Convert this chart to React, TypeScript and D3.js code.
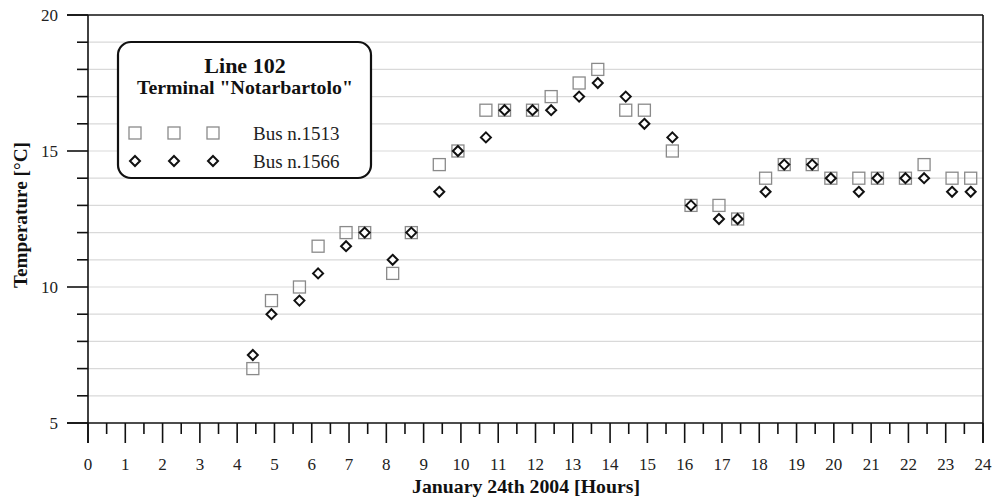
import React from "react";
import * as d3 from "d3";

// sampling times (decimal hours) on January 24th 2004
const hours = [
  4.42, 4.92, 5.67, 6.17, 6.92, 7.42, 8.17, 8.67, 9.42, 9.92, 10.67, 11.17,
  11.92, 12.42, 13.17, 13.67, 14.42, 14.92, 15.67, 16.17, 16.92, 17.42, 18.17,
  18.67, 19.42, 19.92, 20.67, 21.17, 21.92, 22.42, 23.17, 23.67,
];

const bus1513 = [
  7.0, 9.5, 10.0, 11.5, 12.0, 12.0, 10.5, 12.0, 14.5, 15.0, 16.5, 16.5, 16.5,
  17.0, 17.5, 18.0, 16.5, 16.5, 15.0, 13.0, 13.0, 12.5, 14.0, 14.5, 14.5, 14.0,
  14.0, 14.0, 14.0, 14.5, 14.0, 14.0,
];

const bus1566 = [
  7.5, 9.0, 9.5, 10.5, 11.5, 12.0, 11.0, 12.0, 13.5, 15.0, 15.5, 16.5, 16.5,
  16.5, 17.0, 17.5, 17.0, 16.0, 15.5, 13.0, 12.5, 12.5, 13.5, 14.5, 14.5, 14.0,
  13.5, 14.0, 14.0, 14.0, 13.5, 13.5,
];

const xTicks = d3.range(0, 25);
const xMinorTicks = d3.range(0.5, 24, 1);
const yTicks = [5, 10, 15, 20];
const yMinorTicks = d3.range(6, 20).filter((v) => v % 5 !== 0);
const gridValues = d3.range(6, 20);

const FONT = "'Liberation Serif', 'DejaVu Serif', serif";

const margin = { top: 15, right: 12, bottom: 77, left: 88 };
const width = 995;
const height = 500;

export default function App() {
  const x = d3
    .scaleLinear()
    .domain([0, 24])
    .range([margin.left, width - margin.right]);
  const y = d3
    .scaleLinear()
    .domain([5, 20])
    .range([height - margin.bottom, margin.top]);

  const x0 = x(0);
  const x1 = x(24);
  const y0 = y(5);
  const y1 = y(20);

  const sq = 12;
  const dm = 5;
  const diamond = (cx: number, cy: number) =>
    `M${cx},${cy - dm}L${cx + dm},${cy}L${cx},${cy + dm}L${cx - dm},${cy}Z`;

  const legendX = [135, 174, 213];

  return (
    <svg
      width={width}
      height={height}
      style={{ position: "absolute", left: 0, top: 0, background: "#fff" }}
      fontFamily={FONT}
    >
      {/* grid */}
      {gridValues.map((v) => (
        <line key={"g" + v} x1={x0} x2={x1} y1={y(v)} y2={y(v)} stroke="#d9d9d9" strokeWidth={1.2} />
      ))}

      {/* frame */}
      <line x1={x0 - 21} x2={x1} y1={y1} y2={y1} stroke="#111" strokeWidth={1.6} />
      <line x1={x1} x2={x1} y1={y1} y2={y0 + 20} stroke="#111" strokeWidth={1.6} />
      <line x1={x0 - 21} x2={x1} y1={y0} y2={y0} stroke="#111" strokeWidth={1.6} />
      <line x1={x0} x2={x0} y1={y1} y2={y0 + 20} stroke="#111" strokeWidth={1.6} />

      {/* y ticks */}
      {yTicks.map((v) => (
        <g key={"yt" + v}>
          <line x1={x0 - 21} x2={x0} y1={y(v)} y2={y(v)} stroke="#111" strokeWidth={1.6} />
          <text x={x0 - 30} y={y(v) + 6} textAnchor="end" fontSize={17} fill="#222">
            {v}
          </text>
        </g>
      ))}
      {yMinorTicks.map((v) => (
        <line key={"ym" + v} x1={x0 - 11} x2={x0} y1={y(v)} y2={y(v)} stroke="#111" strokeWidth={1.6} />
      ))}

      {/* x ticks */}
      {xTicks.map((v) => (
        <g key={"xt" + v}>
          <line x1={x(v)} x2={x(v)} y1={y0} y2={y0 + 20} stroke="#111" strokeWidth={1.6} />
          <text x={x(v)} y={y0 + 47} textAnchor="middle" fontSize={17} fill="#222">
            {v}
          </text>
        </g>
      ))}
      {xMinorTicks.map((v) => (
        <line key={"xm" + v} x1={x(v)} x2={x(v)} y1={y0} y2={y0 + 11} stroke="#111" strokeWidth={1.6} />
      ))}

      {/* axis titles */}
      <text
        x={526}
        y={493}
        textAnchor="middle"
        fontSize={19.5}
        fontWeight="bold"
        fill="#111"
        textLength={228}
        lengthAdjust="spacingAndGlyphs"
      >
        January 24th 2004 [Hours]
      </text>
      <text
        transform={`translate(27,215) rotate(-90)`}
        textAnchor="middle"
        fontSize={19.5}
        fontWeight="bold"
        fill="#111"
        textLength={146}
        lengthAdjust="spacingAndGlyphs"
      >
        Temperature [°C]
      </text>

      {/* Bus n.1513 squares */}
      {hours.map((h, i) => (
        <rect
          key={"s" + i}
          x={x(h) - sq / 2}
          y={y(bus1513[i]) - sq / 2}
          width={sq}
          height={sq}
          fill="none"
          stroke="#8a8a8a"
          strokeWidth={1.3}
        />
      ))}

      {/* Bus n.1566 diamonds */}
      {hours.map((h, i) => (
        <path
          key={"d" + i}
          d={diamond(x(h), y(bus1566[i]))}
          fill="#fff"
          stroke="#111"
          strokeWidth={2}
        />
      ))}

      {/* legend */}
      <rect x={118} y={42} width={253} height={136} rx={13} ry={13} fill="#fff" stroke="#111" strokeWidth={2.2} />
      <text x={245} y={73} textAnchor="middle" fontSize={22} fontWeight="bold" fill="#111">
        Line 102
      </text>
      <text
        x={245}
        y={94}
        textAnchor="middle"
        fontSize={19.5}
        fontWeight="bold"
        fill="#111"
        textLength={216}
        lengthAdjust="spacingAndGlyphs"
      >
        Terminal "Notarbartolo"
      </text>
      {legendX.map((lx) => (
        <rect key={"ls" + lx} x={lx - sq / 2} y={133 - sq / 2} width={sq} height={sq} fill="none" stroke="#8a8a8a" strokeWidth={1.3} />
      ))}
      {legendX.map((lx) => (
        <path key={"ld" + lx} d={diamond(lx, 161)} fill="#fff" stroke="#111" strokeWidth={2} />
      ))}
      <text x={253} y={140} fontSize={19} fill="#222">
        Bus n.1513
      </text>
      <text x={253} y={168} fontSize={19} fill="#222">
        Bus n.1566
      </text>
    </svg>
  );
}
